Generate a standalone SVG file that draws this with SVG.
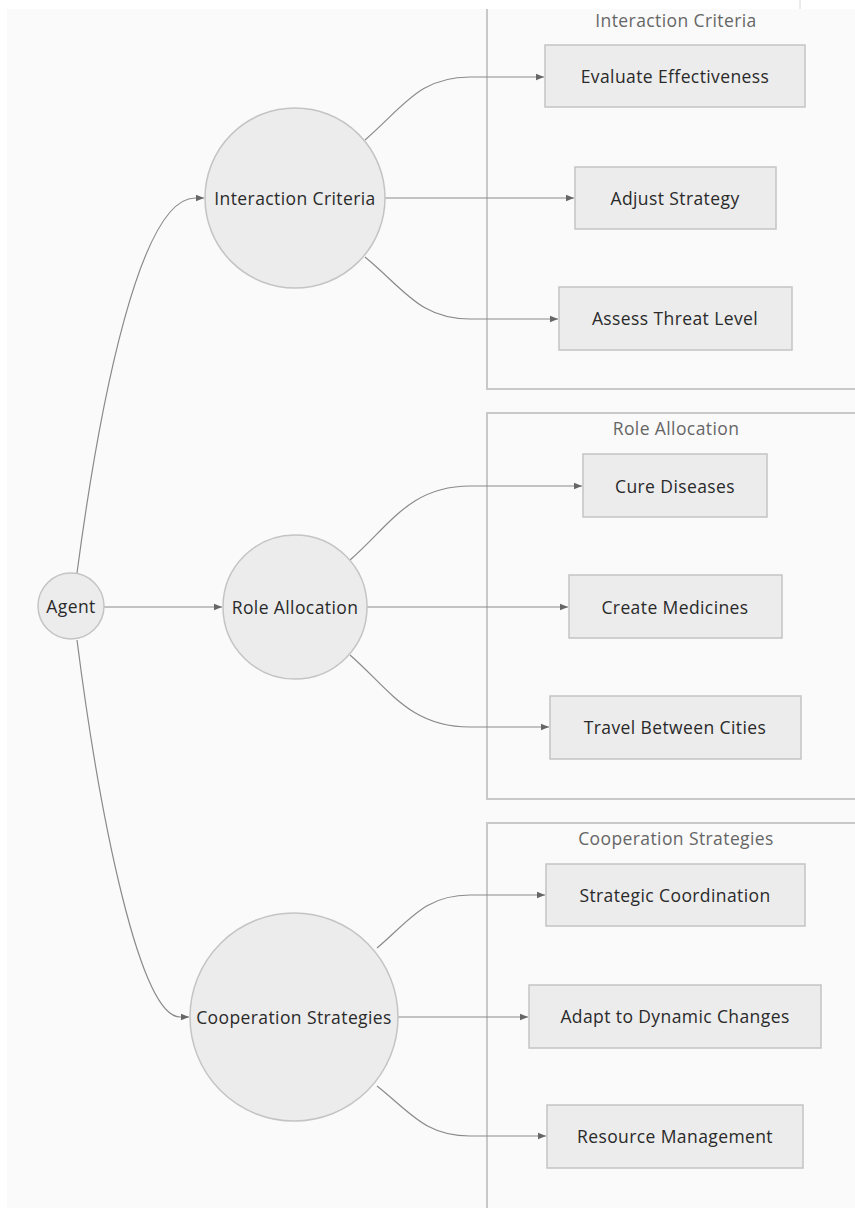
<svg xmlns="http://www.w3.org/2000/svg" width="855" height="1208" viewBox="0 0 855 1208">
  <style>
    .bg { fill: #fafafa; }
    .cluster rect { fill: #fafafa; stroke: #c8c8c8; stroke-width: 2; }
    .cluster text { font-family: "Open Sans", "Liberation Sans", sans-serif; font-size: 17.5px; letter-spacing: 0.4px; fill: #666; text-anchor: middle; dominant-baseline: central; }
    .node circle, .node rect { fill: #ececec; stroke: #c4c4c4; stroke-width: 1.5; }
    .node text { font-family: "Open Sans", "Liberation Sans", sans-serif; font-size: 17.5px; letter-spacing: 0.4px; fill: #2a2a2a; text-anchor: middle; dominant-baseline: central; }
    .edges path { fill: none; stroke: #8a8a8a; stroke-width: 1.2; marker-end: url(#arrow); }
  </style>
  <defs>
    <marker id="arrow" viewBox="0 0 10 10" refX="10" refY="5" markerWidth="8" markerHeight="8" markerUnits="userSpaceOnUse" orient="auto">
      <path d="M0,1 L10,5 L0,9 z" fill="#666"/>
    </marker>
  </defs>

  <rect x="0" y="0" width="855" height="1208" fill="#ffffff"/>
  <rect class="bg" x="7" y="9" width="848" height="1199"/>

  <!-- subgraph containers -->
  <g id="cluster-interaction" class="cluster">
    <rect x="487" y="-20" width="400" height="409"/>
    <text x="676" y="20">Interaction Criteria</text>
  </g>
  <g id="cluster-role" class="cluster">
    <rect x="487" y="413" width="400" height="386"/>
    <text x="676" y="428">Role Allocation</text>
  </g>
  <g id="cluster-cooperation" class="cluster">
    <rect x="487" y="823" width="400" height="400"/>
    <text x="676" y="838">Cooperation Strategies</text>
  </g>

  <!-- blank strip across the top edge -->
  <rect x="0" y="0" width="855" height="9" fill="#ffffff"/>
  <line x1="800" y1="0" x2="800" y2="9" stroke="#d8d8d8" stroke-width="1"/>

  <!-- connectors -->
  <g id="edges" class="edges">
    <path d="M77,573 C100,400 140,198 195,198 L204,198"/>
    <path d="M104,607 L222,607"/>
    <path d="M77,640 C100,820 140,1017 180,1017 L189,1017"/>

    <path d="M365,140 C405,105 420,77 470,77 L544,77"/>
    <path d="M385,198 L574,198"/>
    <path d="M365,257 C405,290 420,319 470,319 L558,319"/>

    <path d="M350,560 C390,525 410,486 470,486 L582,486"/>
    <path d="M367,607 L568,607"/>
    <path d="M350,655 C390,690 410,727 470,727 L549,727"/>

    <path d="M377,948 C410,920 425,895 470,895 L545,895"/>
    <path d="M398,1017 L528,1017"/>
    <path d="M377,1086 C410,1112 425,1136 470,1136 L546,1136"/>
  </g>

  <!-- nodes -->
  <g id="agent" class="node">
    <circle cx="71" cy="606" r="33"/>
    <text x="71" y="606">Agent</text>
  </g>
  <g id="interaction-criteria" class="node">
    <circle cx="295" cy="198" r="90"/>
    <text x="295" y="198">Interaction Criteria</text>
  </g>
  <g id="role-allocation" class="node">
    <circle cx="295" cy="607" r="72"/>
    <text x="295" y="607">Role Allocation</text>
  </g>
  <g id="cooperation-strategies" class="node">
    <circle cx="294" cy="1017" r="104"/>
    <text x="294" y="1017">Cooperation Strategies</text>
  </g>

  <g id="evaluate-effectiveness" class="node">
    <rect x="545" y="45" width="260" height="62"/>
    <text x="675" y="76">Evaluate Effectiveness</text>
  </g>
  <g id="adjust-strategy" class="node">
    <rect x="575" y="167" width="201" height="62"/>
    <text x="675" y="198">Adjust Strategy</text>
  </g>
  <g id="assess-threat-level" class="node">
    <rect x="559" y="287" width="233" height="63"/>
    <text x="675" y="318">Assess Threat Level</text>
  </g>

  <g id="cure-diseases" class="node">
    <rect x="583" y="454" width="184" height="63"/>
    <text x="675" y="486">Cure Diseases</text>
  </g>
  <g id="create-medicines" class="node">
    <rect x="569" y="575" width="213" height="63"/>
    <text x="675" y="607">Create Medicines</text>
  </g>
  <g id="travel-between-cities" class="node">
    <rect x="550" y="696" width="251" height="63"/>
    <text x="675" y="727">Travel Between Cities</text>
  </g>

  <g id="strategic-coordination" class="node">
    <rect x="546" y="864" width="259" height="62"/>
    <text x="675" y="895">Strategic Coordination</text>
  </g>
  <g id="adapt-dynamic-changes" class="node">
    <rect x="529" y="985" width="292" height="63"/>
    <text x="675" y="1016">Adapt to Dynamic Changes</text>
  </g>
  <g id="resource-management" class="node">
    <rect x="547" y="1105" width="256" height="63"/>
    <text x="675" y="1136">Resource Management</text>
  </g>
</svg>
